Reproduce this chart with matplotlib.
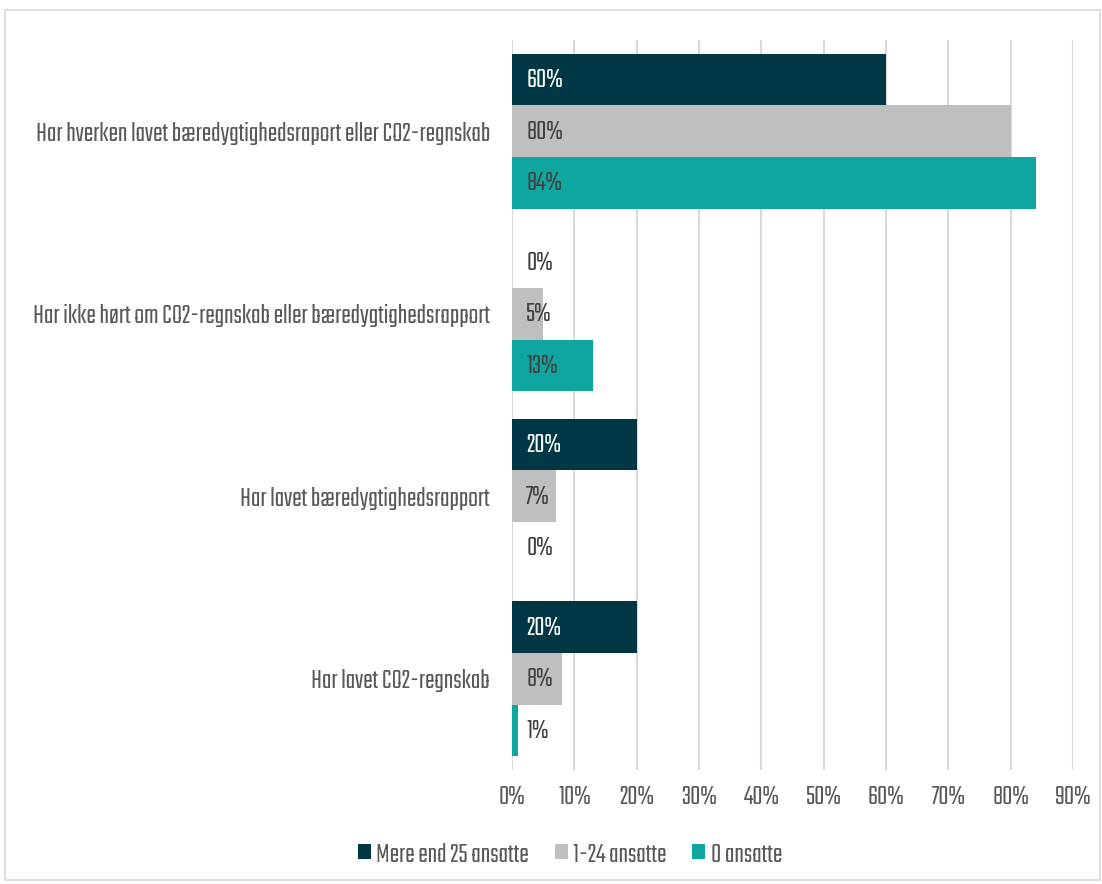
import matplotlib
matplotlib.use("Agg")
import matplotlib.pyplot as plt
from matplotlib.patches import Rectangle
import numpy as np

plt.rcParams['font.family'] = ['Teko', 'DejaVu Sans']
plt.rcParams['font.weight'] = 'light'

categories = [
    "Har hverken lavet bæredygtighedsraport eller CO2-regnskab",
    "Har ikke hørt om CO2-regnskab eller bæredygtighedsrapport",
    "Har lavet bæredygtighedsrapport",
    "Har lavet CO2-regnskab",
]
series_names = ["Mere end 25 ansatte", "1-24 ansatte", "0 ansatte"]
mere_25 = [60, 0, 20, 20]
ansatte_1_24 = [80, 5, 7, 8]
ansatte_0 = [84, 13, 0, 1]

colors = ["#003745", "#BFBFBF", "#0FA6A0"]
label_colors = ["white", "#404040", "#404040"]
text_grey = "#595959"
fs = 20.5

fig = plt.figure(figsize=(11.02, 8.84), dpi=100)
fig.patches.append(Rectangle((5 / 1102, 4 / 884), 1095 / 1102, 870 / 884,
                             transform=fig.transFigure, fill=False,
                             edgecolor="#D9D9D9", linewidth=1.2))
ax = fig.add_axes([512 / 1102, 1 - 770 / 884, 561 / 1102, 730 / 884])

n = len(categories)
y = np.arange(n)
h = 0.283
series = [mere_25, ansatte_1_24, ansatte_0]
for i, vals in enumerate(series):
    pos = y - h + i * h
    ax.barh(pos, vals, height=h, color=colors[i], label=series_names[i], zorder=2)
    for p, v in zip(pos, vals):
        ax.text(2.3, p, f"{v}%", va="center", ha="left", fontsize=fs,
                color=label_colors[i] if v > 2 else "#404040", zorder=3)

ax.set_ylim(n - 0.5, -0.5)
ax.set_xlim(0, 90)
ax.set_xticks(np.arange(0, 91, 10))
ax.set_xticklabels([f"{t}%" for t in range(0, 91, 10)], fontsize=fs, color=text_grey)
ax.set_yticks(y)
ax.set_yticklabels(categories, fontsize=fs, color=text_grey)
ax.tick_params(axis="both", length=0)
ax.tick_params(axis="x", pad=11)
ax.tick_params(axis="y", pad=16)
ax.grid(axis="x", color="#D9D9D9", linewidth=1.5, zorder=0)
for s in ax.spines.values():
    s.set_visible(False)

fig.legend(loc="center", bbox_to_anchor=(570 / 1102, 1 - 854 / 884), ncol=3,
           frameon=False, fontsize=fs, labelcolor=text_grey, handlelength=0.46,
           handleheight=0.46, columnspacing=0.9, handletextpad=0.2)

fig.savefig("out.png", dpi=100)
